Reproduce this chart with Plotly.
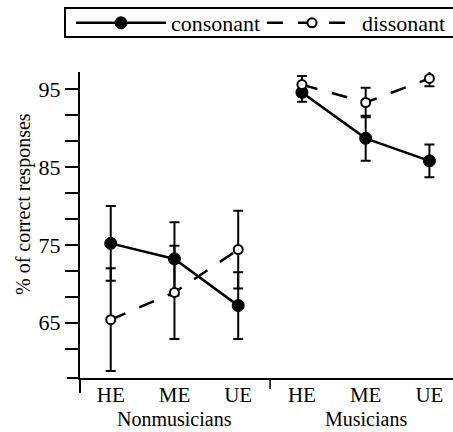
import plotly.graph_objects as go

categories = ["HE", "ME", "UE", "HE", "ME", "UE"]
groups = ["Nonmusicians", "Musicians"]
consonant = [75.2, 73.2, 67.2, 94.6, 88.7, 85.8]
consonant_err = [4.8, 4.7, 4.3, 1.2, 2.9, 2.1]
dissonant = [65.4, 68.9, 74.4, 95.6, 93.3, 96.4]
dissonant_err = [6.6, 6.0, 5.0, 1.1, 1.9, 1.0]
y_labeled = [65, 75, 85, 95]

FONT = "Liberation Serif"
W, H = 453, 432
ML, MR, MT, MB = 80, 0, 72, 54
PW, PH = W - ML - MR, H - MT - MB

def px_x(p):
    return (p - ML) / PW

def px_y(p):
    return 1 - (p - MT) / PH

xpos = list(range(len(categories)))
fig = go.Figure()

series = [
    ("consonant", consonant, consonant_err, dict(symbol="circle", size=12, color="black",
                                                  line=dict(color="black", width=1)), "solid"),
    ("dissonant", dissonant, dissonant_err, dict(symbol="circle", size=9, color="white",
                                                  line=dict(color="black", width=2)), "16px,15px"),
]
for name, vals, errs, marker, dash in series:
    for g in range(len(groups)):
        sl = slice(g * 3, g * 3 + 3)
        fig.add_trace(go.Scatter(
            x=xpos[sl], y=vals[sl], name=name, legendgroup=name, showlegend=(g == 0),
            mode="lines+markers", cliponaxis=False,
            line=dict(color="black", width=2.5, dash=dash),
            marker=marker,
            error_y=dict(type="data", array=errs[sl], color="black", thickness=2, width=5),
        ))

# y ticks: labelled ticks plus two minor ticks between each
tickvals, ticktext = [], []
for v in y_labeled:
    tickvals.append(v); ticktext.append(str(v))
    for k in (1, 2):
        tickvals.append(v + k * 10 / 3); ticktext.append("")
tickvals.append(y_labeled[0] - 10 / 3); ticktext.append("")

yr = [57.9, 97.22]
xr = [-0.482, 5.37]

fig.update_layout(
    width=W, height=H,
    margin=dict(l=ML, r=MR, t=MT, b=MB, pad=0),
    paper_bgcolor="white", plot_bgcolor="white",
    font=dict(family=FONT, size=22, color="black"),
    showlegend=True,
    legend=dict(orientation="h", x=px_x(76), y=px_y(2),
                xanchor="left", yanchor="top", borderwidth=0,
                bgcolor="rgba(0,0,0,0)", itemwidth=90, entrywidth=86,
                font=dict(family=FONT, size=22), traceorder="normal"),
    xaxis=dict(range=xr, showgrid=False, zeroline=False, showline=True, linecolor="black",
               linewidth=2, tickvals=xpos, ticktext=categories, ticks="",
               ticklabelstandoff=-3,
               tickfont=dict(family=FONT, size=21)),
    yaxis=dict(range=yr, showgrid=False, zeroline=False, showline=True, linecolor="black",
               linewidth=2, tickvals=tickvals, ticktext=ticktext, ticks="outside",
               ticklen=13, tickwidth=2, tickcolor="black",
               tickfont=dict(family=FONT, size=22)),
)

# legend frame
fig.add_shape(type="rect", xref="paper", yref="paper", x0=px_x(65), x1=px_x(470),
              y0=px_y(37), y1=px_y(8), line=dict(color="black", width=2),
              fillcolor="rgba(0,0,0,0)", layer="below")

# axis overhangs and group separator tick
fig.add_shape(type="line", xref="paper", yref="paper", x0=0, x1=0, y0=0, y1=-15 / PH,
              line=dict(color="black", width=2))
fig.add_shape(type="line", xref="paper", yref="paper", x0=-13 / PW, x1=0, y0=0, y1=0,
              line=dict(color="black", width=2))
fig.add_shape(type="line", xref="x", yref="paper", x0=2.5, x1=2.5, y0=0, y1=-11 / PH,
              line=dict(color="black", width=1.5))

# y-axis title
fig.add_annotation(text="% of correct responses", xref="paper", yref="paper",
                   x=px_x(23), y=px_y(204), textangle=-90,
                   showarrow=False, font=dict(family=FONT, size=20), xanchor="center",
                   yanchor="middle")
# group labels, centred under each group's middle category
for g, gname in enumerate(groups):
    fig.add_annotation(text=gname, xref="x", yref="paper", x=g * 3 + 1, y=px_y(432),
                       showarrow=False, font=dict(family=FONT, size=20),
                       xanchor="center", yanchor="bottom")

fig.write_html("out.html")
